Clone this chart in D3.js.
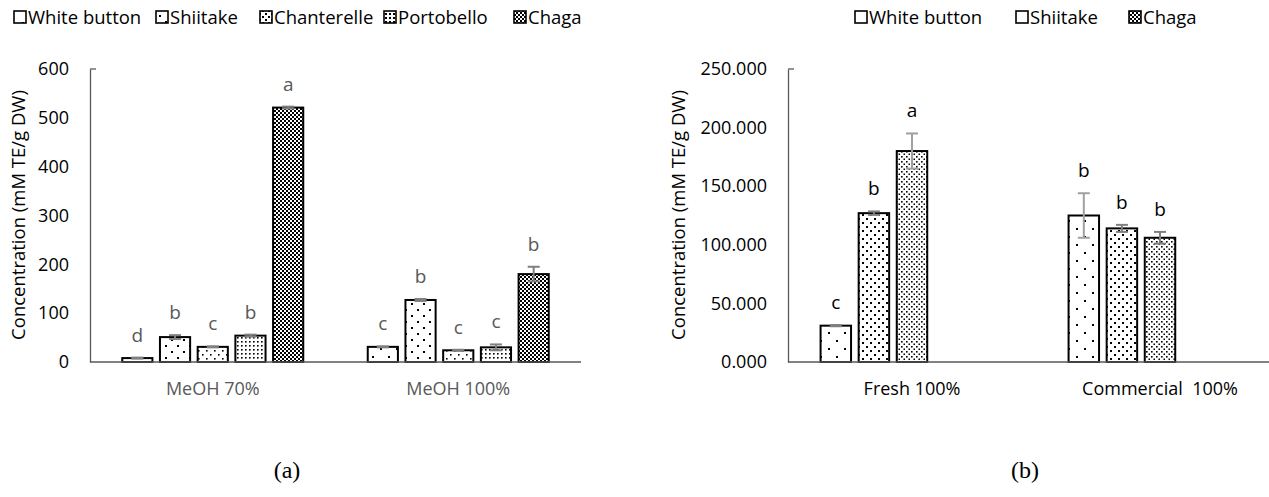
<!DOCTYPE html>
<html><head><meta charset="utf-8">
<script src="https://cdn.jsdelivr.net/npm/d3@7"></script>
<style>
body{margin:0;background:#fff;}
text{font-family:"Open Sans",sans-serif;}
</style></head>
<body><svg id="c" width="1269" height="497"></svg>
<script>
// ---------- data ----------
const groupsA = ["MeOH 70%", "MeOH 100%"];
const seriesA = ["White button", "Shiitake", "Chanterelle", "Portobello", "Chaga"];
const valuesA_white = [8, 31];
const valuesA_shiitake = [51, 127];
const valuesA_chanterelle = [31, 24];
const valuesA_portobello = [54, 30];
const valuesA_chaga = [521, 180];
const errA_white = [1, 1];
const errA_shiitake = [4, 2];
const errA_chanterelle = [1, 1];
const errA_portobello = [2, 6];
const errA_chaga = [2, 15];
const lettersA_white = ["d", "c"];
const lettersA_shiitake = ["b", "b"];
const lettersA_chanterelle = ["c", "c"];
const lettersA_portobello = ["b", "c"];
const lettersA_chaga = ["a", "b"];
const ticksA = [0, 100, 200, 300, 400, 500, 600];

const groupsB = ["Fresh 100%", "Commercial  100%"];
const seriesB = ["White button", "Shiitake", "Chaga"];
const valuesB_white = [31, 125];
const valuesB_shiitake = [127, 114];
const valuesB_chaga = [180, 106];
const errB_white = [0.5, 19];
const errB_shiitake = [1.5, 3];
const errB_chaga = [15, 5];
const lettersB_white = ["c", "b"];
const lettersB_shiitake = ["b", "b"];
const lettersB_chaga = ["a", "b"];
const ticksB = [0, 50, 100, 150, 200, 250];

const svg = d3.select("#c");
const defs = svg.append("defs");

function pat(id, size, dots, ds, bg) {
  const p = defs.append("pattern").attr("id", id).attr("patternUnits", "userSpaceOnUse")
    .attr("width", size).attr("height", size);
  p.append("rect").attr("width", size).attr("height", size).attr("fill", bg || "#fff");
  dots.forEach(d => p.append("rect").attr("x", d[0]).attr("y", d[1]).attr("width", ds).attr("height", ds).attr("fill", "#000"));
}
pat("pA0", 16, [[4, 4], [12, 12]], 2);
pat("pA1", 12, [[3, 3], [9, 9]], 2);
pat("pA2", 8, [[2, 2], [6, 6]], 1.6);
pat("pA3", 4, [[1, 1]], 1.6);
pat("pA4", 4, [[0, 0], [2, 2]], 2);
pat("pB0", 16, [[4, 4], [12, 12]], 2);
pat("pB1", 8, [[2, 2], [6, 6]], 2);
pat("pB2", 5, [[1, 1], [3.5, 3.5]], 1.6);
pat("pL0", 16, [[6, 6]], 2);
pat("pL1", 12, [[3, 3], [9, 9]], 2);
pat("pL2", 6, [[1, 1], [4, 4]], 2);
pat("pL3", 4, [[1, 1]], 2);

function drawPanel(cfg) {
  const g = svg.append("g");
  const x = d3.scaleBand().domain(cfg.groups).range(cfg.xRange);
  const inner = d3.scaleBand().domain(d3.range(5)).range([-x.step() * 0.384, x.step() * 0.384])
    .paddingInner(0.2).paddingOuter(0.1);
  const y = d3.scaleLinear().domain(cfg.yDomain).range([362, 69]);

  cfg.series.forEach((s, si) => {
    cfg.groups.forEach((grp, gi) => {
      const v = s.values[gi], e = s.err[gi];
      const cx = x(grp) + x.bandwidth() / 2 + inner(si);
      g.append("rect").attr("x", cx).attr("y", y(v)).attr("width", inner.bandwidth())
        .attr("height", y(0) - y(v)).attr("fill", `url(#${s.pattern})`)
        .attr("stroke", "#000").attr("stroke-width", 2);
      const mx = cx + inner.bandwidth() / 2;
      const ec = s.errColor[gi];
      g.append("line").attr("x1", mx).attr("x2", mx).attr("y1", y(v + e)).attr("y2", y(v - e))
        .attr("stroke", ec).attr("stroke-width", 2);
      [v + e, v - e].forEach(t => g.append("line").attr("x1", mx - 6).attr("x2", mx + 6)
        .attr("y1", y(t)).attr("y2", y(t)).attr("stroke", ec).attr("stroke-width", 2));
      g.append("text").attr("x", mx).attr("y", y(v + e) - 16).attr("text-anchor", "middle")
        .attr("font-size", 19).attr("fill", cfg.letterColor).text(s.letters[gi]);
    });
  });

  const ya = d3.axisLeft(y).tickValues(cfg.ticks).tickSize(0).tickPadding(21).tickFormat(cfg.fmt);
  const yg = g.append("g").attr("transform", `translate(${cfg.xRange[0]},0)`).call(ya);
  yg.select(".domain").attr("stroke", "#595959").attr("stroke-width", 1.3);
  yg.selectAll("text").attr("font-size", 18).attr("fill", "#000").style("font-family", "Open Sans");
  g.append("line").attr("x1", cfg.xRange[0]).attr("x2", cfg.xRange[0] + 6).attr("y1", y(cfg.yDomain[1])).attr("y2", y(cfg.yDomain[1]))
    .attr("stroke", "#595959").attr("stroke-width", 1.3);

  g.append("line").attr("x1", cfg.xRange[0]).attr("x2", cfg.xEnd).attr("y1", y(0)).attr("y2", y(0))
    .attr("stroke", "#595959").attr("stroke-width", 1.5);
  cfg.groups.forEach(grp => g.append("text").attr("x", x(grp) + x.bandwidth() / 2).attr("y", 395)
    .attr("text-anchor", "middle").attr("font-size", 18).attr("fill", cfg.xLabelColor)
    .style("white-space", "pre").text(grp));

  g.append("text").attr("transform", `translate(${cfg.titleX},215) rotate(-90)`).attr("text-anchor", "middle")
    .attr("font-size", 18.5).attr("fill", "#000").text("Concentration (mM TE/g DW)");

  cfg.legend.forEach(l => {
    g.append("rect").attr("x", l.x).attr("y", 11).attr("width", 12).attr("height", 12)
      .attr("fill", l.pattern === "none" ? "#fff" : `url(#${l.pattern})`).attr("stroke", "#000").attr("stroke-width", 1.6);
    g.append("text").attr("x", l.x + 14).attr("y", 23.5).attr("font-size", 18.5).attr("fill", "#000").text(l.name);
  });

  g.append("text").attr("x", cfg.panelX).attr("y", 478).attr("text-anchor", "middle")
    .style("font-family", "Liberation Serif").attr("font-size", 24).attr("fill", "#000").text(cfg.panelLabel);
}

const gA = "#7f7f7f";
drawPanel({
  groups: groupsA, xRange: [90, 581], xEnd: 581, yDomain: [0, 600], ticks: ticksA, fmt: d3.format("d"),
  letterColor: "#595959", xLabelColor: "#595959", titleX: 25, panelX: 287, panelLabel: "(a)",
  series: [
    { values: valuesA_white, err: errA_white, letters: lettersA_white, pattern: "pA0", errColor: [gA, gA] },
    { values: valuesA_shiitake, err: errA_shiitake, letters: lettersA_shiitake, pattern: "pA1", errColor: [gA, gA] },
    { values: valuesA_chanterelle, err: errA_chanterelle, letters: lettersA_chanterelle, pattern: "pA2", errColor: [gA, gA] },
    { values: valuesA_portobello, err: errA_portobello, letters: lettersA_portobello, pattern: "pA3", errColor: [gA, gA] },
    { values: valuesA_chaga, err: errA_chaga, letters: lettersA_chaga, pattern: "pA4", errColor: [gA, gA] }
  ],
  legend: [
    { name: seriesA[0], x: 14, pattern: "pL0" },
    { name: seriesA[1], x: 156, pattern: "pL1" },
    { name: seriesA[2], x: 260, pattern: "pL2" },
    { name: seriesA[3], x: 384, pattern: "pL3" },
    { name: seriesA[4], x: 514, pattern: "pA4" }
  ]
});

drawPanel({
  groups: groupsB, xRange: [788, 1284], xEnd: 1269, yDomain: [0, 250], ticks: ticksB, fmt: d3.format(".3f"),
  letterColor: "#000", xLabelColor: "#000", titleX: 685, panelX: 1025, panelLabel: "(b)",
  series: [
    { values: valuesB_white, err: errB_white, letters: lettersB_white, pattern: "pB0", errColor: [gA, "#a0a0a0"] },
    { values: valuesB_shiitake, err: errB_shiitake, letters: lettersB_shiitake, pattern: "pB1", errColor: [gA, gA] },
    { values: valuesB_chaga, err: errB_chaga, letters: lettersB_chaga, pattern: "pB2", errColor: ["#a0a0a0", gA] }
  ],
  legend: [
    { name: seriesB[0], x: 855, pattern: "none" },
    { name: seriesB[1], x: 1016, pattern: "pL0" },
    { name: seriesB[2], x: 1129, pattern: "pA4" }
  ]
});
</script></body></html>
